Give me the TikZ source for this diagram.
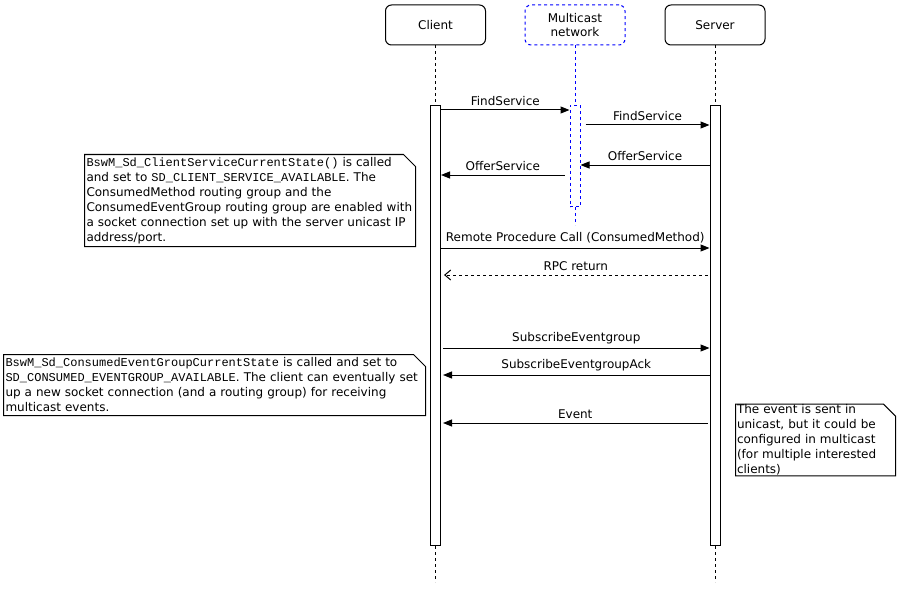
\documentclass[tikz,border=0pt]{standalone}
\usepackage{fontspec}
\setmainfont{DejaVu Sans}
\setmonofont{Liberation Mono}
\usetikzlibrary{arrows.meta}
\newcommand{\mtt}[1]{{\fontsize{12}{15}\selectfont\ttfamily #1}}
\begin{document}
\begin{tikzpicture}[x=1pt,y=-1pt,line width=1pt,
  head/.style={draw,rounded corners=6pt,minimum width=100pt,minimum height=40pt,align=center,inner sep=0pt,font=\fontsize{12}{14.5}\selectfont},
  actbar/.style={draw,fill=white,minimum width=10pt,inner sep=0pt,anchor=north},
  life/.style={dash pattern=on 3pt off 3pt,line width=1pt},
  msg/.style={-{Triangle[length=9pt,width=7pt]}},
  ret/.style={dash pattern=on 3pt off 3pt,-{Straight Barb[length=6pt,width=10pt]}},
  lbl/.style={midway,above,inner sep=4pt,font=\fontsize{12}{14}\selectfont},
  notebox/.style={minimum width=#1,align=left,inner sep=0pt,font=\fontsize{12}{15}\selectfont},
  mcblue/.style={draw=blue,dash pattern=on 3pt off 3pt}
]
\useasboundingbox[fill=white] (0,0) rectangle (902,591);

% headers
\node[head] (client) at (435.5,25) {Client};
\node[head,mcblue] (mc) at (575,25) {Multicast\\network};
\node[head] (server) at (715,25) {Server};

% lifeline end points
\coordinate (cend) at (435.5,582);
\coordinate (send) at (715,582);
\coordinate (mend) at (575,225);

% activation bars
\node[actbar,minimum height=440pt] (cbar) at (435.5,105) {};
\node[actbar,minimum height=440pt] (sbar) at (715,105) {};
\node[actbar,mcblue,minimum height=101pt] (mbar) at (575,105) {};

% lifelines
\draw[life] (client.south) -- (cbar.north);
\draw[life] (cbar.south) -- (cend);
\draw[life] (server.south) -- (sbar.north);
\draw[life] (sbar.south) -- (send);
\draw[life,draw=blue] (mc.south) -- (mbar.north);
\draw[life,draw=blue] (mbar.south) -- (mend);

% rows
\coordinate (r1) at (0,110);
\coordinate (r2) at (0,125);
\coordinate (r3) at (0,165);
\coordinate (r4) at (0,175);
\coordinate (r5) at (0,248);
\coordinate (r6) at (0,275);
\coordinate (r7) at (0,348);
\coordinate (r8) at (0,375);
\coordinate (r9) at (0,423);

% messages
\draw[msg] (cbar.east |- r1) -- (mbar.west |- r1) node[lbl] {FindService};
\draw[msg] ([xshift=5pt]mbar.east |- r2) -- (sbar.west |- r2) node[lbl] {FindService};
\draw[msg] (sbar.west |- r3) -- (mbar.east |- r3) node[lbl] {OfferService};
\draw[msg] ([xshift=-5pt]mbar.west |- r4) -- (cbar.east |- r4) node[lbl] {OfferService};
\draw[msg] (cbar.east |- r5) -- (sbar.west |- r5) node[lbl] {Remote Procedure Call (ConsumedMethod)};
\draw[ret] ([xshift=-2pt]sbar.west |- r6) -- ([xshift=3pt]cbar.east |- r6) node[lbl] {RPC return};
\draw[msg] ([xshift=2pt]cbar.east |- r7) -- (sbar.west |- r7) node[lbl] {SubscribeEventgroup};
\draw[msg] (sbar.west |- r8) -- ([xshift=2pt]cbar.east |- r8) node[lbl] {SubscribeEventgroupAck};
\draw[msg] ([xshift=-2pt]sbar.west |- r9) -- ([xshift=2pt]cbar.east |- r9) node[lbl] {Event};

% notes
\node[notebox=330pt,minimum height=91pt,text width=327pt] (n1) at (250,200.5)
{\mtt{BswM\_Sd\_ClientServiceCurrentState()} is called\\
and set to \mtt{SD\_CLIENT\_SERVICE\_AVAILABLE}. The\\
ConsumedMethod routing group and the\\
ConsumedEventGroup routing group are enabled with\\
a socket connection set up with the server unicast IP\\
address/port.};
\draw (n1.north west) -- ([xshift=-12pt]n1.north east) -- ([yshift=-12pt]n1.north east) -- (n1.south east) -- (n1.south west) -- cycle;

\node[notebox=421pt,minimum height=60pt,text width=418pt] (n2) at (214.5,385)
{\mtt{BswM\_Sd\_ConsumedEventGroupCurrentState} is called and set to\\
\mtt{SD\_CONSUMED\_EVENTGROUP\_AVAILABLE}. The client can eventually set\\
up a new socket connection (and a routing group) for receiving\\
multicast events.};
\draw (n2.north west) -- ([xshift=-12pt]n2.north east) -- ([yshift=-12pt]n2.north east) -- (n2.south east) -- (n2.south west) -- cycle;

\node[notebox=159pt,minimum height=70pt,text width=157pt] (n3) at (815.5,440)
{The event is sent in\\
unicast, but it could be\\
configured in multicast\\
(for multiple interested\\
clients)};
\draw (n3.north west) -- ([xshift=-12pt]n3.north east) -- ([yshift=-12pt]n3.north east) -- (n3.south east) -- (n3.south west) -- cycle;
\end{tikzpicture}
\end{document}
